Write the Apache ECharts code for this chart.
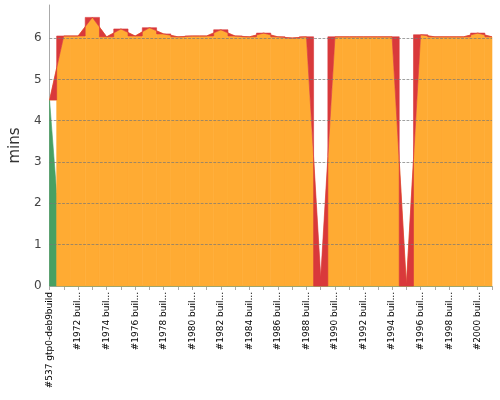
<!DOCTYPE html>
<html><head><meta charset="utf-8">
<script src="https://cdn.jsdelivr.net/npm/echarts@6/dist/echarts.min.js"></script>
<style>html,body{margin:0;padding:0;background:#fff}#c{width:500px;height:400px}</style>
</head><body><div id="c"></div>
<script>
var categories = ["#537 gtp0-deb9build"];
for (var b = 1971; b <= 2001; b++) categories.push("#" + b + " buil...");
var success  = [4.5,0,0,0,0,0,0,0,0,0,0,0,0,0,0,0,0,0,0,0,0,0,0,0,0,0,0,0,0,0,0,0];
var unstable = [0,6.05,6.05,6.5,6.03,6.22,6.05,6.25,6.1,6.03,6.05,6.05,6.2,6.05,6.03,6.12,6.03,6.0,6.03,0,6.03,6.03,6.03,6.03,6.03,0,6.08,6.03,6.03,6.03,6.12,6.03];
var failure  = [0,0,0,0,0,0,0,0,0,0,0,0,0,0,0,0,0,0,0,0.22,0,0,0,0,0,0.05,0,0,0,0,0,0];
var yTicks = [0,1,2,3,4,5,6];

var seriesData = [success, unstable, failure];
var colors = ['#48a063', '#ffab33', '#d9393b'];
var n = categories.length;
function cum(s, i) { var t = 0; for (var k = 0; k <= s; k++) t += seriesData[k][i]; return t; }

function makeSeries(s) {
  return {
    type: 'custom', xAxisIndex: 1,
    data: categories.map(function (c, i) { return [i]; }),
    encode: { x: 0 },
    renderItem: function (params, api) {
      var i = api.value(0);
      var base = s > 0 ? cum(s - 1, i) : 0;
      var top = cum(s, i);
      var lx = Math.max(i - 0.5, 0), rx = Math.min(i + 0.5, n - 1);
      var lt = i > 0 ? (cum(s, i - 1) + top) / 2 : top;
      var rt = i < n - 1 ? (cum(s, i + 1) + top) / 2 : top;
      var pts = [
        api.coord([lx, base]), api.coord([lx, lt]), api.coord([i, top]),
        api.coord([rx, rt]), api.coord([rx, base]), api.coord([i, base])
      ];
      return { type: 'polygon', shape: { points: pts }, style: { fill: colors[s], stroke: colors[s], lineWidth: 0.6 }, silent: true };
    },
    z: 2 + s
  };
}

var chart = echarts.init(document.getElementById('c'));
chart.setOption({
  animation: false,
  grid: { left: 43, right: 8, top: 5, bottom: 114 },
  xAxis: [{
    type: 'category', data: categories, boundaryGap: false,
    axisLine: { lineStyle: { color: '#aaa' } },
    axisTick: { show: true, interval: 0, length: 4, lineStyle: { color: '#aaa' } },
    axisLabel: { rotate: 90, interval: 1, fontSize: 9, color: '#000', fontFamily: 'DejaVu Sans', margin: 6 },
    splitLine: { show: false }
  }, {
    type: 'value', min: 0, max: n - 1, show: false
  }],
  yAxis: {
    type: 'value', min: 0, max: 6.8, interval: 1,
    name: 'mins', nameLocation: 'middle', nameGap: 24,
    nameTextStyle: { fontSize: 15, color: '#333', fontFamily: 'DejaVu Sans' },
    axisLine: { show: true, lineStyle: { color: '#aaa' } },
    axisTick: { show: false },
    axisLabel: { fontSize: 12, color: '#444', fontFamily: 'DejaVu Sans', margin: 8,
      formatter: function (v) { return yTicks.indexOf(v) >= 0 ? String(v) : ''; } },
    splitLine: { show: false }
  },
  series: [makeSeries(0), makeSeries(1), makeSeries(2),
    { type: 'line', data: [], z: 10,
      markLine: { silent: true, symbol: 'none', label: { show: false },
        lineStyle: { color: '#777', type: 'dashed', width: 0.7 },
        data: yTicks.slice(1).map(function (v) { return { yAxis: v }; }) } }]
});
</script></body></html>
